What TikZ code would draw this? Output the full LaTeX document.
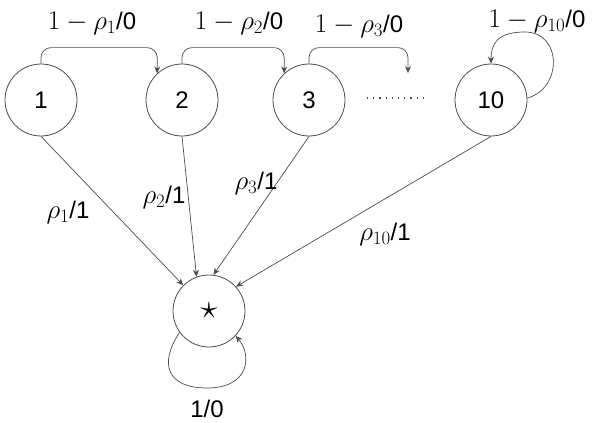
\RequirePackage{fix-cm}
\documentclass[tikz,border=0pt]{standalone}
\usepackage{fontspec}
\setmainfont{Liberation Sans}
\usetikzlibrary{arrows.meta}
\definecolor{linegray}{gray}{.3}
\newcommand{\mth}[1]{{\fontsize{27}{28}\selectfont$#1$}}

\begin{document}
\begin{tikzpicture}[x=1pt, y=-1pt, font=\fontsize{24}{28}\selectfont,
  state/.style={circle, draw=linegray, line width=.8pt, minimum size=72pt, inner sep=0pt},
  tr/.style={draw=linegray, line width=.7pt, -{Stealth[length=7pt,width=6pt]}},
  lab/.style={inner sep=1pt}] % pixel units
\useasboundingbox (0,0) rectangle (598,423);
% states
\node[state] (s1) at (41,100) {1};
\node[state] (s2) at (182,100) {2};
\node[state] (s3) at (309,100) {3};
\node[state] (s10) at (491,100) {10};
\node[state] (star) at (209,311) {{\fontsize{34}{34}\selectfont$\star$}};
\coordinate (gap) at (408,73);
%%
\draw[tr, rounded corners=10pt] (s1.north) -- ++(0,-16) -| (s2.133);
\draw[tr, rounded corners=10pt] (s2.north) -- ++(0,-16) -| (s3.133);
\draw[tr, rounded corners=10pt] (s3.north) -- ++(0,-16) -| (gap);
\draw[linegray, line width=1.2pt, dash pattern=on 1.2pt off 5pt] (367,98) -- (426,98);
\draw[tr] (s10.3) .. controls (563,88) and (562,32) .. (525,32) .. controls (497,32) and (491,44) .. (s10.north);
%%
\draw[tr] (s1.south) -- (star.135);
\draw[tr] (s2.south) -- (star.110);
\draw[tr] (s3.south) -- (star.83);
\draw[tr] (s10.south) -- (star.42);
\draw[tr] (star.216) .. controls (158,365) and (168,388) .. (207,388) .. controls (250,388) and (252,355) .. (star.-43);
%% labels
\node[lab] (l1) at (92,23) {\mth{1-\rho_1}/0};
\node[lab] (l2) at (239,23) {\mth{1-\rho_2}/0};
\node[lab] (l3) at (359,26) {\mth{1-\rho_3}/0};
\node[lab] (l10) at (537,21) {\mth{1-\rho_{10}}/0};
\node[lab] (d1) at (68,212) {\mth{\rho_1}/1};
\node[lab] (d2) at (164,197) {\mth{\rho_2}/1};
\node[lab] (d3) at (256,183) {\mth{\rho_3}/1};
\node[lab] (d10) at (385,234) {\mth{\rho_{10}}/1};
\node[lab] (lstar) at (207,409) {1/0};
\end{tikzpicture}
\end{document}
